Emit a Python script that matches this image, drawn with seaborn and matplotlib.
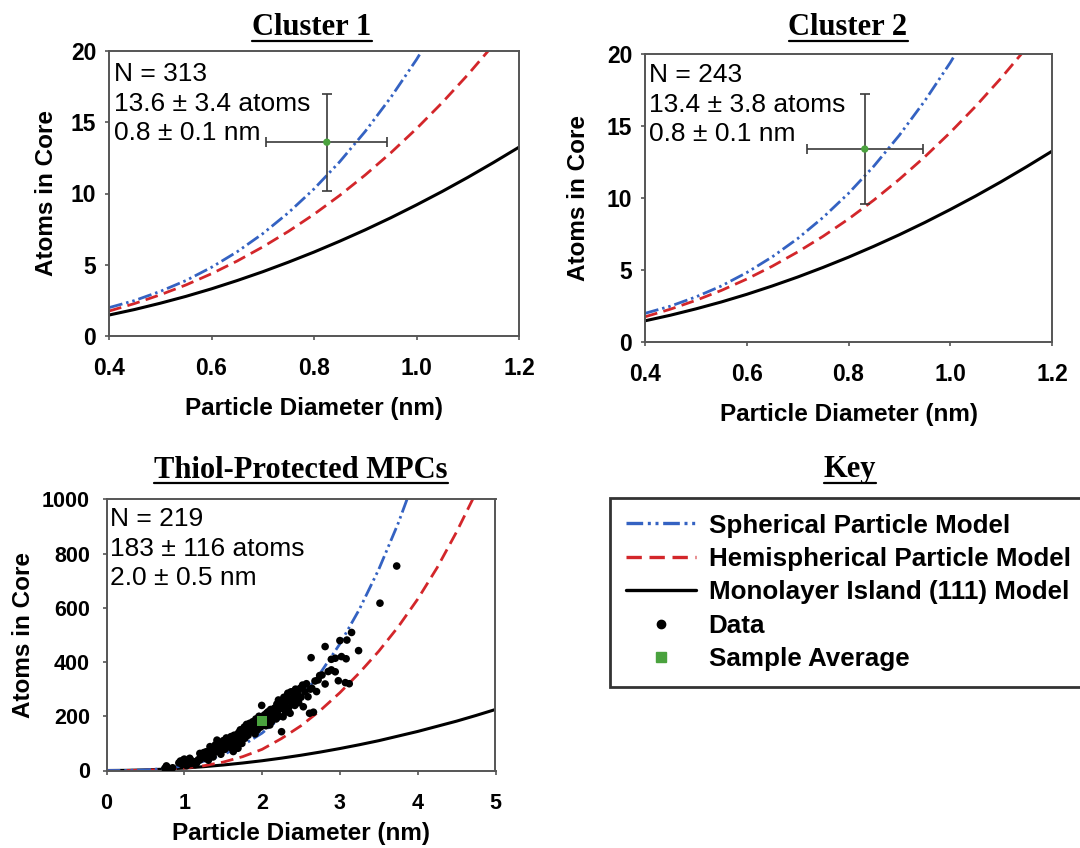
import matplotlib
matplotlib.use("Agg")
import matplotlib.pyplot as plt
from matplotlib.lines import Line2D
import seaborn as sns

# ---------------- data ----------------
# model curves, cluster panels (diameter in nm, atoms in core)
cluster_d = [0.40, 0.45, 0.50, 0.55, 0.60, 0.65, 0.70, 0.75, 0.80, 0.85,
             0.90, 0.95, 1.00, 1.05, 1.10, 1.15, 1.20]
cluster_spherical = [1.99, 2.49, 3.13, 3.89, 4.82, 5.91, 7.18, 8.65, 10.32,
                     12.22, 14.36, 16.75, 19.40, 22.33]
cluster_hemispherical = [1.75, 2.28, 2.89, 3.58, 4.37, 5.26, 6.25, 7.34, 8.54,
                         9.86, 11.30, 12.86, 14.55, 16.37, 18.33, 20.43]
cluster_monolayer = [1.47, 1.86, 2.30, 2.78, 3.31, 3.89, 4.51, 5.18, 5.89,
                     6.65, 7.45, 8.30, 9.20, 10.14, 11.13, 12.17, 13.25]

# model curves, thiol-protected MPC panel
thiol_d = [0.0, 0.25, 0.5, 0.75, 1.0, 1.25, 1.5, 1.75, 2.0, 2.25, 2.5, 2.75,
           3.0, 3.25, 3.5, 3.75, 4.0, 4.25, 4.5, 4.75, 5.0]
thiol_spherical = [0, 0.27, 2.16, 7.3, 17.3, 33.8, 58.4, 92.7, 138, 197, 270,
                   360, 467, 594, 742, 912, 1107]
thiol_hemispherical = [0, 0.15, 1.2, 4.0, 9.0, 17.5, 31, 51, 78, 118, 165, 222,
                       287, 360, 440, 530, 632, 748, 880, 1025]
thiol_monolayer = [0, 0.56, 2.25, 5.1, 9, 14.1, 20.3, 27.6, 36, 45.6, 56.3,
                   68.1, 81, 95, 110, 127, 144, 163, 182, 203, 225]

# cluster sample averages (mean +/- sd)
cluster1_d, cluster1_d_sd, cluster1_n, cluster1_n_sd = 0.825, 0.118, 13.6, 3.4
cluster2_d, cluster2_d_sd, cluster2_n, cluster2_n_sd = 0.832, 0.114, 13.4, 3.8
cluster1_text = "N = 313\n13.6 \u00b1 3.4 atoms\n0.8 \u00b1 0.1 nm"
cluster2_text = "N = 243\n13.4 \u00b1 3.8 atoms\n0.8 \u00b1 0.1 nm"
thiol_text = "N = 219\n183 \u00b1 116 atoms\n2.0 \u00b1 0.5 nm"

# thiol-protected MPC data points
thiol_pts_d = [0.75, 0.77, 0.78, 0.80, 0.85,
               0.93, 0.95, 0.97, 0.99, 1.00, 1.02, 1.03, 1.05, 1.07, 1.08, 1.10, 1.12, 1.14, 1.16,
               1.18, 1.20, 1.20, 1.22, 1.24, 1.25, 1.27, 1.28, 1.30, 1.31, 1.33, 1.34, 1.35,
               1.37, 1.38, 1.40, 1.40, 1.42, 1.43, 1.45, 1.46, 1.47, 1.48, 1.50, 1.50, 1.52, 1.53, 1.54, 1.55,
               1.57, 1.58, 1.59, 1.60, 1.61, 1.62, 1.63, 1.64, 1.65, 1.66, 1.67, 1.68, 1.69, 1.70, 1.71, 1.72, 1.73, 1.74, 1.75,
               1.76, 1.77, 1.78, 1.79, 1.80, 1.81, 1.82, 1.83, 1.84, 1.85, 1.86, 1.87, 1.88, 1.89, 1.90, 1.91, 1.92, 1.93, 1.94,
               1.96, 1.97, 1.98, 1.995, 2.01, 2.02, 2.03, 2.04, 2.05, 2.06, 2.08, 2.09, 2.10, 2.11, 2.12, 2.13, 2.14,
               2.16, 2.17, 2.18, 2.19, 2.20, 2.21, 2.22, 2.23, 2.24, 2.25, 2.26, 2.27, 2.28, 2.29, 2.30, 2.31, 2.32, 2.33, 2.34,
               2.36, 2.37, 2.38, 2.39, 2.40, 2.41, 2.42, 2.43, 2.445, 2.45, 2.46, 2.47, 2.49, 2.50, 2.52, 2.53, 2.53, 2.55,
               2.57, 2.59, 2.61, 2.62, 2.63, 2.64, 2.66, 2.68, 2.70, 2.72, 2.74,
               2.77, 2.81, 2.81, 2.85, 2.89, 2.89, 2.94, 2.94, 2.98, 3.00, 3.02, 3.07, 3.08, 3.09, 3.12, 3.15, 3.24,
               3.515, 3.73]
thiol_pts_n = [8, 17, 12, 5, 10,
               28, 35, 22, 39, 42, 27, 18, 30, 45, 25, 35, 32, 22, 28,
               40, 39, 63, 48, 55, 66, 45, 69, 58, 38, 88, 62, 72,
               50, 80, 68, 95, 112, 75, 85, 82, 60, 100, 90, 110, 78, 95, 120, 112,
               94, 105, 85, 125, 100, 115, 70, 130, 108, 95, 131, 120, 82, 140, 112, 150, 125, 100, 143,
               135, 160, 119, 150, 170, 140, 130, 155, 174, 145, 165, 156, 180, 150, 175, 135, 190, 165, 150,
               200, 175, 160, 240, 190, 170, 205, 185, 165, 212, 217, 195, 168, 225, 180, 200, 198,
               230, 210, 190, 245, 220, 260, 200, 235, 229, 143, 250, 198, 270, 240, 215, 272, 255, 285, 230,
               211, 290, 248, 265, 291, 275, 240, 300, 260, 291, 280, 250, 303, 270, 315, 235, 312, 290,
               320, 272, 211, 300, 416, 303, 215, 330, 291, 334, 350,
               352, 457, 319, 365, 410, 371, 414, 364, 331, 479, 420, 324, 412, 481, 320, 509, 442,
               617, 754]
thiol_avg_d, thiol_avg_n = 2.0, 183

cluster_xticks = [0.4, 0.6, 0.8, 1.0, 1.2]
cluster_xticklabels = ["0.4", "0.6", "0.8", "1.0", "1.2"]
cluster_yticks = [0, 5, 10, 15, 20]
thiol_xticks = [0, 1, 2, 3, 4, 5]
thiol_yticks = [0, 200, 400, 600, 800, 1000]

titles = ["Cluster 1", "Cluster 2", "Thiol-Protected MPCs", "Key"]
key_labels = ["Spherical Particle Model", "Hemispherical Particle Model",
              "Monolayer Island (111) Model", "Data", "Sample Average"]

# ---------------- style ----------------
sns.set_theme(style="white")
plt.rcParams["font.family"] = ["Liberation Sans", "DejaVu Sans"]
plt.rcParams["text.color"] = "black"
plt.rcParams["axes.labelcolor"] = "black"

BLUE = "#3462c2"
RED = "#d3262a"
GREEN = "#4aa23e"
SPINE = "#555555"
SPH_LS = (0, (5, 1.4, 0.9, 1.4, 0.9, 1.4))
HEMI_LS = (0, (4.6, 2.3))

W, H = 1080, 848
fig = plt.figure(figsize=(W / 100, H / 100), dpi=100)
fig.patch.set_facecolor("white")


def add_ax(l, t, r, b):
    return fig.add_axes([l / W, 1 - b / H, (r - l) / W, (b - t) / H])


ax1 = add_ax(109, 51, 519, 336)
ax2 = add_ax(645, 54, 1052, 342)
ax3 = add_ax(106.5, 499.3, 495.5, 770.5)


def draw_models(ax, d, sph, hemi, mono):
    sns.lineplot(x=d[:len(mono)], y=mono, ax=ax, color="black", lw=2.2)
    sns.lineplot(x=d[:len(hemi)], y=hemi, ax=ax, color=RED, lw=2.0, linestyle=HEMI_LS)
    sns.lineplot(x=d[:len(sph)], y=sph, ax=ax, color=BLUE, lw=2.0, linestyle=SPH_LS)


def style_ax(ax, xlim, ylim, xticks, xticklabels, yticks,
             tsize, xpad, ypad, xlabpad, ylabpad):
    ax.set_xlim(*xlim)
    ax.set_ylim(*ylim)
    ax.set_xticks(xticks)
    ax.set_xticklabels(xticklabels)
    ax.set_yticks(yticks)
    ax.set_yticklabels([str(v) for v in yticks])
    for sp in ax.spines.values():
        sp.set_visible(True)
        sp.set_color(SPINE)
        sp.set_linewidth(1.4)
    ax.tick_params(axis="both", which="major", bottom=True, left=True,
                   direction="out", length=3, width=1.2, color=SPINE,
                   labelsize=tsize, labelcolor="black")
    ax.tick_params(axis="x", pad=xpad)
    ax.tick_params(axis="y", pad=ypad)
    for lab in ax.get_xticklabels() + ax.get_yticklabels():
        lab.set_fontweight("bold")
    ax.set_xlabel("Particle Diameter (nm)", fontsize=17.5, fontweight="bold",
                  labelpad=xlabpad, color="black")
    ax.set_ylabel("Atoms in Core", fontsize=17.5, fontweight="bold",
                  labelpad=ylabpad, color="black")
    ax.grid(False)
    ax.set_facecolor("white")


def cluster_panel(ax, md, sdd, mn, sdn, text, dx, dy, ylabpad):
    draw_models(ax, cluster_d, cluster_spherical, cluster_hemispherical, cluster_monolayer)
    ax.errorbar([md], [mn], xerr=[sdd], yerr=[sdn], fmt="none",
                ecolor="#3a3a3a", elinewidth=1.2, capsize=3.6, capthick=1.2, zorder=4)
    sns.scatterplot(x=[md], y=[mn], ax=ax, color=GREEN, s=28,
                    edgecolor="none", zorder=5)
    style_ax(ax, (0.4, 1.2), (0, 20), cluster_xticks, cluster_xticklabels, cluster_yticks,
             tsize=16.5, xpad=12.2, ypad=6.2, xlabpad=12.2, ylabpad=ylabpad)
    ax.annotate(text, xy=(0, 1), xycoords="axes fraction", xytext=(dx, dy),
                textcoords="offset pixels", ha="left", va="top",
                fontsize=19, linespacing=1.3, color="black")


cluster_panel(ax1, cluster1_d, cluster1_d_sd, cluster1_n, cluster1_n_sd, cluster1_text, 4.5, -11, 9)
cluster_panel(ax2, cluster2_d, cluster2_d_sd, cluster2_n, cluster2_n_sd, cluster2_text, 4, -9, 12)

# thiol panel
draw_models(ax3, thiol_d, thiol_spherical, thiol_hemispherical, thiol_monolayer)
sns.scatterplot(x=thiol_pts_d, y=thiol_pts_n, ax=ax3, color="black", s=30,
                edgecolor="none", zorder=4)
sns.scatterplot(x=[thiol_avg_d], y=[thiol_avg_n], ax=ax3, color=GREEN, marker="s",
                s=48, edgecolor="none", zorder=5)
style_ax(ax3, (0, 5), (0, 1000), thiol_xticks, [str(v) for v in thiol_xticks], thiol_yticks,
         tsize=15.5, xpad=13.3, ypad=9, xlabpad=5.5, ylabpad=5.2)
ax3.annotate(thiol_text, xy=(0, 1), xycoords="axes fraction", xytext=(3, -7.5),
             textcoords="offset pixels", ha="left", va="top",
             fontsize=19, linespacing=1.3, color="black")

# key / legend
handles = [
    Line2D([], [], color=BLUE, lw=2.4, linestyle=SPH_LS),
    Line2D([], [], color=RED, lw=2.4, linestyle=HEMI_LS),
    Line2D([], [], color="black", lw=2.4),
    Line2D([], [], color="black", marker="o", linestyle="none", markersize=6),
    Line2D([], [], color=GREEN, marker="s", linestyle="none", markersize=7),
]
leg = fig.legend(handles, key_labels, loc="upper left",
                 bbox_to_anchor=(610 / W, 1 - 498 / H), bbox_transform=fig.transFigure,
                 frameon=True, fancybox=False, shadow=False, edgecolor="black",
                 prop={"weight": "bold", "size": 18.7}, handlelength=2.7,
                 handletextpad=0.5, borderpad=0.6, labelspacing=0.36,
                 borderaxespad=0, labelcolor="black")
leg.get_frame().set_linewidth(2.0)
leg.get_frame().set_facecolor("white")

# underlined serif titles
title_specs = [(titles[0], 312, 35), (titles[1], 848, 35),
               (titles[2], 301, 477.5), (titles[3], 850, 477.5)]
title_objs = []
for txt, xc, base in title_specs:
    t = fig.text(xc / W, 1 - base / H, txt, ha="center", va="baseline",
                 fontsize=22, fontweight="bold",
                 family=["Liberation Serif", "DejaVu Serif"], color="black")
    title_objs.append((t, base))

fig.canvas.draw()
for t, base in title_objs:
    bb = t.get_window_extent()
    yline = 1 - (base + 5.5) / H
    fig.add_artist(Line2D([bb.x0 / W, bb.x1 / W], [yline, yline],
                          transform=fig.transFigure, color="black", lw=1.6))

fig.savefig("out.png", dpi=100, facecolor="white")
